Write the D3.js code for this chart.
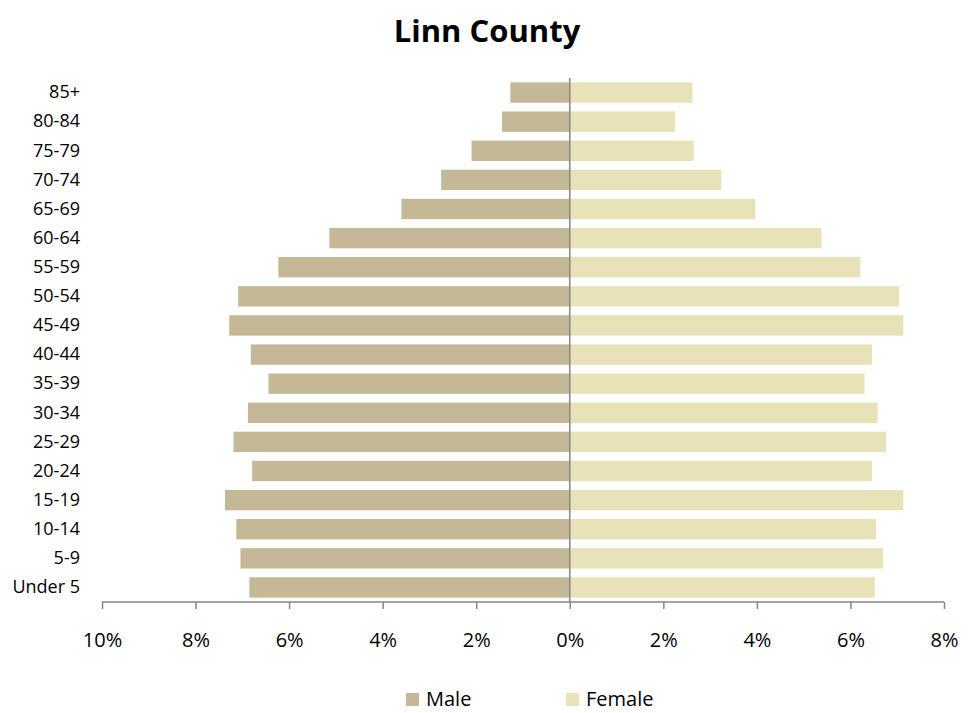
<!DOCTYPE html>
<meta charset="utf-8">
<head>
<style>
 body { margin: 0; background: #fff; }
 text { font-family: "Open Sans", sans-serif; fill: #000; }
 .title { font-weight: bold; font-size: 31px; }
 .cat text { font-size: 18px; }
 .xaxis text { font-size: 20px; }
 .legend text { font-size: 20px; }
</style>
</head>
<body>
<svg width="974" height="713"></svg>
<script src="https://d3js.org/d3.v7.min.js" charset="utf-8"></script>
<script>
  // age groups, bottom to top
  var ages = ['Under 5', '5-9', '10-14', '15-19', '20-24', '25-29', '30-34', '35-39',
              '40-44', '45-49', '50-54', '55-59', '60-64', '65-69', '70-74', '75-79', '80-84', '85+'];
  // percent of population
  var male = [6.85, 7.04, 7.13, 7.37, 6.79, 7.19, 6.88, 6.44,
              6.82, 7.28, 7.09, 6.23, 5.14, 3.60, 2.75, 2.10, 1.45, 1.27];
  var female = [6.52, 6.70, 6.55, 7.13, 6.46, 6.76, 6.58, 6.30,
                6.46, 7.13, 7.04, 6.21, 5.38, 3.97, 3.24, 2.65, 2.25, 2.62];
  var tickVals = [-10, -8, -6, -4, -2, 0, 2, 4, 6, 8];
  var series = ['Male', 'Female'];
  var colors = { Male: '#c4b896', Female: '#e8e2b8' };

  var svg = d3.select('svg');
  var x = d3.scaleLinear().domain([-10, 8]).range([102, 944]);
  var y = d3.scaleBand()
      .domain(ages.slice().reverse())
      .range([78, 602])
      .paddingInner(0.3)
      .paddingOuter(0.15);

  svg.append('text')
      .attr('class', 'title')
      .attr('x', 487).attr('y', 42)
      .attr('text-anchor', 'middle')
      .text('Linn County');

  // bars
  var bars = svg.append('g');
  bars.selectAll('.male')
    .data(ages)
    .enter().append('rect')
      .attr('x', function(d, i) { return x(-male[i]); })
      .attr('y', function(d) { return y(d); })
      .attr('width', function(d, i) { return x(0) - x(-male[i]); })
      .attr('height', y.bandwidth())
      .attr('fill', colors.Male);
  bars.selectAll('.female')
    .data(ages)
    .enter().append('rect')
      .attr('x', x(0))
      .attr('y', function(d) { return y(d); })
      .attr('width', function(d, i) { return x(female[i]) - x(0); })
      .attr('height', y.bandwidth())
      .attr('fill', colors.Female);

  // category labels
  var cat = svg.append('g').attr('class', 'cat')
      .attr('transform', 'translate(87,0)')
      .call(d3.axisLeft(y).tickSize(0).tickPadding(7));
  cat.select('.domain').remove();
  cat.selectAll('text').attr('fill', '#000');
  cat.attr('font-family', null).attr('font-size', null);

  // zero line
  svg.append('line')
      .attr('x1', x(0)).attr('x2', x(0))
      .attr('y1', 78).attr('y2', 602)
      .attr('stroke', '#868686').attr('stroke-width', 1.5);

  // x axis
  var xa = svg.append('g').attr('class', 'xaxis')
      .attr('transform', 'translate(0,602)')
      .call(d3.axisBottom(x)
        .tickValues(tickVals)
        .tickSize(7)
        .tickPadding(24)
        .tickFormat(function(d) { return Math.abs(d) + '%'; }));
  xa.select('.domain').attr('stroke', '#868686').attr('stroke-width', 1.5)
      .attr('d', 'M' + x(-10) + ',0H' + x(8));
  xa.selectAll('.tick line').attr('stroke', '#868686').attr('stroke-width', 1.5);
  xa.selectAll('text').attr('fill', '#000');
  xa.attr('font-family', null).attr('font-size', null);

  // legend
  var legX = { Male: 406, Female: 566 };
  var leg = svg.append('g').attr('class', 'legend');
  var item = leg.selectAll('g').data(series).enter().append('g')
      .attr('transform', function(d) { return 'translate(' + legX[d] + ',693)'; });
  item.append('rect').attr('width', 13).attr('height', 13)
      .attr('fill', function(d) { return colors[d]; });
  item.append('text').attr('x', 20).attr('y', 13).text(function(d) { return d; });
</script>
</body>
</html>
